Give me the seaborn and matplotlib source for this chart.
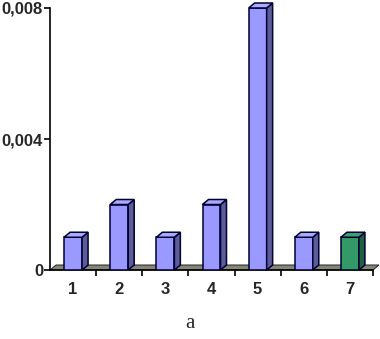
import matplotlib
matplotlib.use("Agg")
import matplotlib.pyplot as plt
import seaborn as sns
import pandas as pd
from matplotlib.patches import Polygon

categories = ["1", "2", "3", "4", "5", "6", "7"]
values = [0.001, 0.002, 0.001, 0.002, 0.008, 0.001, 0.001]
front_colors = ["#9999FF"] * 6 + ["#339966"]
side_colors = ["#5C5C99"] * 6 + ["#1F5F3F"]
top_colors = ["#AAAAFF"] * 6 + ["#3FA070"]
ytick_vals = [0, 0.004, 0.008]
ytick_labels = ["0", "0,004", "0,008"]
caption = "a"

sns.set_style("white")
plt.rcParams["font.family"] = ["Liberation Sans", "DejaVu Sans"]

fig = plt.figure(figsize=(3.8, 3.39), dpi=100)
ax = fig.add_axes([50 / 380, 69 / 339, 323 / 380, 262 / 339])

df = pd.DataFrame({"cat": categories, "val": values})
sns.barplot(data=df, x="cat", y="val", hue="cat", palette=front_colors,
            legend=False, width=0.39, ax=ax, edgecolor="#000033",
            linewidth=1.1, saturation=1, zorder=3)

ax.set_xlim(-0.5, 6.5)
ax.set_ylim(0, 0.008)

# depth offsets (in data units)
dx = 6 / (323 / 7)
dy = 5 / (262 / 0.008)

# floor
floor = Polygon([(-0.5, 0), (6.5, 0), (6.5 + dx, dy), (-0.5 + dx, dy)],
                closed=True, facecolor="#85857A", edgecolor="#222222",
                linewidth=0.7, zorder=1, clip_on=False)
ax.add_patch(floor)

for p, sc, tc in zip(ax.patches[:len(values)], side_colors, top_colors):
    x0 = p.get_x()
    w = p.get_width()
    h = p.get_height()
    x1 = x0 + w
    side = Polygon([(x1, 0), (x1 + dx, dy), (x1 + dx, h + dy), (x1, h)],
                   closed=True, facecolor=sc, edgecolor="#000033",
                   linewidth=1.1, zorder=3, clip_on=False)
    top = Polygon([(x0, h), (x1, h), (x1 + dx, h + dy), (x0 + dx, h + dy)],
                  closed=True, facecolor=tc, edgecolor="#000033",
                  linewidth=1.1, zorder=3, clip_on=False)
    ax.add_patch(side)
    ax.add_patch(top)

for s in ["top", "right"]:
    ax.spines[s].set_visible(False)
for s in ["left", "bottom"]:
    ax.spines[s].set_color("black")
    ax.spines[s].set_linewidth(1.2)
    ax.spines[s].set_zorder(2)

ax.set_yticks(ytick_vals)
ax.set_yticklabels(ytick_labels, fontsize=12, fontweight="bold")
ax.set_xticks(range(len(categories)))
ax.set_xticklabels(categories, fontsize=12, fontweight="bold")
ax.set_xticks([i + 0.5 for i in range(len(categories))], minor=True)
ax.tick_params(axis="x", which="major", length=0, pad=9)
ax.tick_params(axis="x", which="minor", length=4, width=1.2, direction="out",
               color="black", bottom=True)
ax.tick_params(axis="y", length=4, width=1.2, direction="out", color="black",
               left=True, pad=1)
ax.set_xlabel("")
ax.set_ylabel("")

fig.text(190 / 380, 1 - 323 / 339, caption, ha="center", va="center",
         fontsize=15, family=["Liberation Serif", "DejaVu Serif"])

fig.savefig("out.png", dpi=100)
